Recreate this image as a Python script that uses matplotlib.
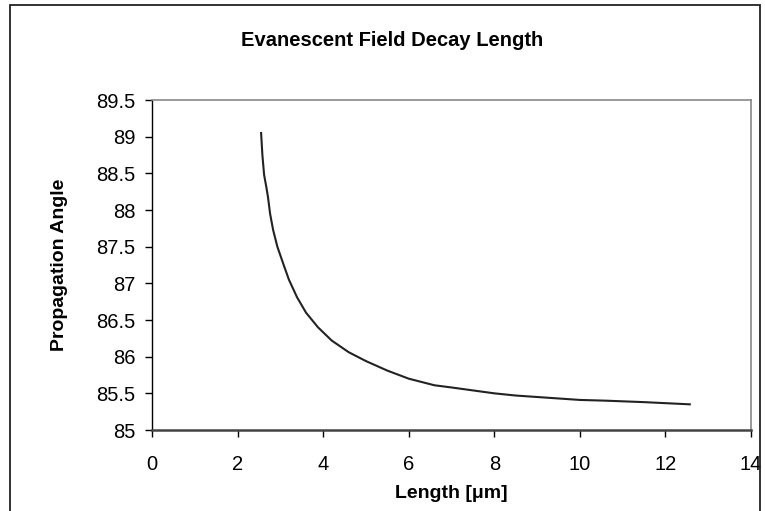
import matplotlib
matplotlib.use("Agg")
import matplotlib.pyplot as plt
from matplotlib.patches import Rectangle

plt.rcParams['font.family'] = ['Liberation Sans', 'DejaVu Sans']

# dados
length_um = [2.55, 2.58, 2.62, 2.67, 2.71, 2.76, 2.83, 2.93, 3.06, 3.20, 3.39,
             3.60, 3.88, 4.20, 4.60, 5.00, 5.50, 6.00, 6.60, 7.00, 7.50, 8.00,
             8.50, 9.00, 9.50, 10.00, 10.60, 11.50, 12.57]
angle_deg = [89.05, 88.75, 88.48, 88.32, 88.18, 87.95, 87.73, 87.50, 87.28, 87.05, 86.81,
             86.60, 86.40, 86.22, 86.06, 85.94, 85.81, 85.70, 85.61, 85.58, 85.54, 85.50,
             85.47, 85.45, 85.43, 85.41, 85.40, 85.38, 85.35]

x_ticks = [0, 2, 4, 6, 8, 10, 12, 14]
y_ticks = [85, 85.5, 86, 86.5, 87, 87.5, 88, 88.5, 89, 89.5]
y_labels = ['85', '85.5', '86', '86.5', '87', '87.5', '88', '88.5', '89', '89.5']

fig = plt.figure(figsize=(7.65, 5.11), dpi=100)

# moldura do gráfico (estilo Excel)
fig.patches.append(Rectangle((10 / 765, -0.05), 750 / 765, 1.05 - 5 / 511,
                             transform=fig.transFigure, fill=False,
                             edgecolor='#222222', linewidth=1.3))

ax = fig.add_axes([152 / 765, 81 / 511, 599 / 765, 330 / 511])
ax.plot(length_um, angle_deg, color='#222222', linewidth=1.5)

ax.set_xlim(0, 14)
ax.set_ylim(85, 89.5)
ax.set_xticks(x_ticks)
ax.set_yticks(y_ticks)
ax.set_yticklabels(y_labels)
ax.tick_params(direction='out', length=5, width=1, labelsize=14.5, colors='black')
ax.tick_params(axis='x', pad=13)
ax.tick_params(axis='y', pad=7)

for s in ['top', 'right']:
    ax.spines[s].set_color('#888888')
    ax.spines[s].set_linewidth(1.2)
ax.spines['left'].set_color('black')
ax.spines['left'].set_linewidth(1.0)
ax.spines['bottom'].set_color('#444444')
ax.spines['bottom'].set_linewidth(1.8)

fig.text(392 / 765, 1 - 40 / 511, 'Evanescent Field Decay Length',
         ha='center', va='center', fontsize=14.5, fontweight='bold')
ax.set_xlabel('Length [\u03bcm]', fontsize=14, fontweight='bold', labelpad=8)
ax.set_ylabel('Propagation Angle', fontsize=14, fontweight='bold', labelpad=20)

fig.savefig('out.png', dpi=100)
